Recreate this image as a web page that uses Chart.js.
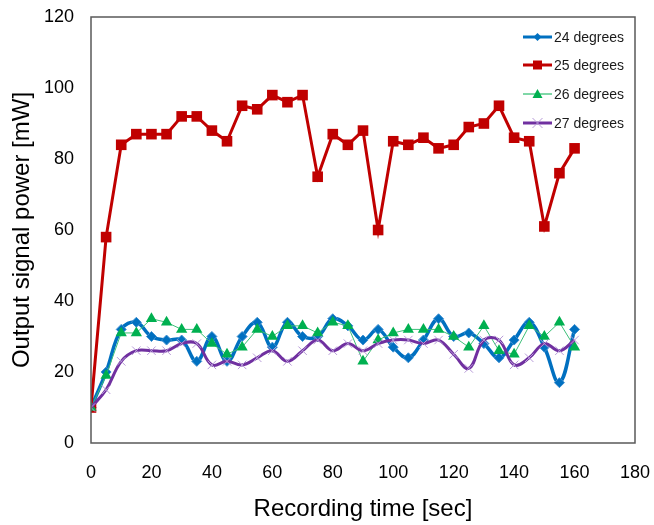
<!DOCTYPE html>
<html>
<head>
<meta charset="utf-8">
<script src="https://cdn.jsdelivr.net/npm/chart.js@4.4.0/dist/chart.umd.min.js"></script>
<style>
  html, body { margin: 0; padding: 0; background: #fff; }
  #wrap { width: 654px; height: 525px; }
</style>
</head>
<body>
<div id="wrap"><canvas id="powerChart" width="654" height="525"></canvas></div>
<script>
// recording time [sec]
var times = [0, 5, 10, 15, 20, 25, 30, 35, 40, 45, 50, 55, 60, 65, 70, 75, 80,
  85, 90, 95, 100, 105, 110, 115, 120, 125, 130, 135, 140, 145, 150, 155, 160];

// output signal power [mW]
var deg24 = [10, 20, 32, 34, 30, 29, 29, 23, 30, 23, 30, 34, 27, 34, 30, 30, 35,
  33, 29, 32, 27, 24, 29, 35, 30, 31, 28, 24, 29, 34, 27, 17, 32];
var deg25 = [10, 58, 84, 87, 87, 87, 92, 92, 88, 85, 95, 94, 98, 96, 98, 75, 87,
  84, 88, 60, 85, 84, 86, 83, 84, 89, 90, 95, 86, 85, 61, 76, 83];
var deg26 = [10, 19, 31, 31, 35, 34, 32, 32, 28, 25, 27, 32, 30, 33, 33, 31, 34,
  33, 23, 29, 31, 32, 32, 32, 30, 27, 33, 26, 25, 33, 30, 34, 27];
var deg27 = [10, 15, 23, 26, 26, 26, 28, 28, 22, 23, 22, 24, 26, 23, 26, 29, 26,
  28, 26, 28, 29, 29, 28, 29, 25, 21, 29, 29, 22, 24, 28, 26, 29];

var xTicks = [0, 20, 40, 60, 80, 100, 120, 140, 160, 180];
var yTicks = [0, 20, 40, 60, 80, 100, 120];

var seriesNames = ['24 degrees', '25 degrees', '26 degrees', '27 degrees'];

function toPoints(vals) {
  var pts = [];
  for (var i = 0; i < times.length; i++) {
    pts.push({ x: times[i], y: vals[i] });
  }
  return pts;
}

// legend swatches, drawn inside the plot like the original
function drawMarker(ctx, kind, x, y, col) {
  ctx.save();
  ctx.fillStyle = col;
  ctx.strokeStyle = col;
  ctx.beginPath();
  if (kind == 'diamond') {
    ctx.moveTo(x, y - 4); ctx.lineTo(x + 4, y); ctx.lineTo(x, y + 4); ctx.lineTo(x - 4, y);
    ctx.closePath(); ctx.fill();
  } else if (kind == 'square') {
    ctx.rect(x - 4.5, y - 4.5, 9, 9); ctx.fill();
  } else if (kind == 'triangle') {
    ctx.moveTo(x, y - 5); ctx.lineTo(x + 5, y + 4); ctx.lineTo(x - 5, y + 4);
    ctx.closePath(); ctx.fill();
  } else {
    ctx.lineWidth = 1;
    ctx.moveTo(x - 5, y - 5); ctx.lineTo(x + 5, y + 5);
    ctx.moveTo(x + 5, y - 5); ctx.lineTo(x - 5, y + 5);
    ctx.stroke();
  }
  ctx.restore();
}

var frameAndLegend = {
  id: 'frameAndLegend',
  afterDatasetsDraw: function(chart) {
    var ctx = chart.ctx;
    var a = chart.chartArea;
    ctx.save();
    ctx.strokeStyle = '#595959';
    ctx.lineWidth = 1.5;
    ctx.strokeRect(a.left, a.top, a.right - a.left, a.bottom - a.top);

    var lineCols = ['#0070C0', '#C00000', '#00B050', '#7030A0'];
    var markCols = ['#0070C0', '#C00000', '#00B050', '#B79BD8'];
    var widths = [3, 3, 1, 3];
    var kinds = ['diamond', 'square', 'triangle', 'cross'];
    var rowY = [37, 65, 94, 123];
    for (var i = 0; i < 4; i++) {
      ctx.beginPath();
      ctx.strokeStyle = lineCols[i];
      ctx.lineWidth = widths[i];
      ctx.moveTo(523, rowY[i]);
      ctx.lineTo(552, rowY[i]);
      ctx.stroke();
      drawMarker(ctx, kinds[i], 537.5, rowY[i], markCols[i]);
      ctx.fillStyle = '#1a1a1a';
      ctx.font = '14px "Liberation Sans", Arial, sans-serif';
      ctx.textAlign = 'left';
      ctx.textBaseline = 'middle';
      ctx.fillText(seriesNames[i], 554, rowY[i] + 1);
    }
    ctx.restore();
  }
};

var ctx = document.getElementById('powerChart').getContext('2d');
var powerChart = new Chart(ctx, {
  type: 'line',
  data: {
    datasets: [{
      label: seriesNames[0],
      data: toPoints(deg24),
      borderColor: '#0070C0',
      backgroundColor: '#0070C0',
      borderWidth: 3.5,
      tension: 0.4,
      pointStyle: 'rectRot',
      pointRadius: 5,
      pointBorderWidth: 1,
      pointBorderColor: '#3d8fd0',
      order: 3
    }, {
      label: seriesNames[1],
      data: toPoints(deg25),
      borderColor: '#C00000',
      backgroundColor: '#C00000',
      borderWidth: 3,
      tension: 0,
      pointStyle: 'rect',
      pointRadius: 7.5,
      pointBorderWidth: 0,
      order: 2
    }, {
      label: seriesNames[2],
      data: toPoints(deg26),
      borderColor: '#3CBF78',
      backgroundColor: '#00B050',
      borderWidth: 1,
      tension: 0,
      pointStyle: 'triangle',
      pointRadius: 6.5,
      pointBorderWidth: 0,
      order: 1
    }, {
      label: seriesNames[3],
      data: toPoints(deg27),
      borderColor: '#7030A0',
      backgroundColor: '#B79BD8',
      borderWidth: 3,
      tension: 0.4,
      pointStyle: 'crossRot',
      pointRadius: 6,
      pointBorderWidth: 1,
      pointBorderColor: '#B79BD8',
      order: 0
    }]
  },
  options: {
    responsive: false,
    animation: false,
    layout: { padding: { left: 0, right: 19, top: 17, bottom: 0 } },
    plugins: {
      legend: { display: false },
      tooltip: { enabled: false }
    },
    scales: {
      x: {
        type: 'linear',
        min: 0,
        max: 180,
        afterFit: function(scale) {
          scale.height = 82;
          // labels may hang over the plot edges, as in the original
          scale.paddingLeft = 0;
          scale.paddingRight = 0;
        },
        afterBuildTicks: function(scale) {
          scale.ticks = xTicks.map(function(v) { return { value: v }; });
        },
        grid: { display: false, drawTicks: false },
        border: { display: false },
        ticks: {
          padding: 19,
          color: '#000',
          maxRotation: 0,
          font: { family: '"Liberation Sans", Arial, sans-serif', size: 18 }
        },
        title: {
          display: true,
          text: 'Recording time [sec]',
          color: '#000',
          padding: { top: 0, bottom: 1 },
          font: { family: '"Liberation Sans", Arial, sans-serif', size: 24 }
        }
      },
      y: {
        min: 0,
        max: 120,
        afterFit: function(scale) {
          scale.width = 91;
          scale.paddingTop = 0;
          scale.paddingBottom = 0;
        },
        afterBuildTicks: function(scale) {
          scale.ticks = yTicks.map(function(v) { return { value: v }; });
        },
        grid: { display: false, drawTicks: false },
        border: { display: false },
        ticks: {
          padding: 17,
          color: '#000',
          font: { family: '"Liberation Sans", Arial, sans-serif', size: 18 }
        },
        title: {
          display: true,
          text: 'Output signal power [mW]',
          color: '#000',
          padding: { top: 8, bottom: 0 },
          font: { family: '"Liberation Sans", Arial, sans-serif', size: 24 }
        }
      }
    }
  },
  plugins: [frameAndLegend]
});
</script>
</body>
</html>
